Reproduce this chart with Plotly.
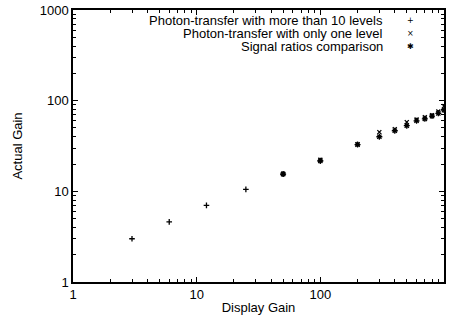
import plotly.graph_objects as go

# Data
x_multi = [3, 6, 12, 25, 50, 100]
y_multi = [3.0, 4.6, 7.0, 10.5, 15.5, 21.7]

x_one = [50, 100, 200, 300, 400, 500, 600, 700, 800, 900, 1000]
y_one = [15.6, 22.3, 33.0, 45.0, 48.5, 58.0, 62.0, 65.5, 69.0, 76.0, 87.0]

x_ratio = [50, 100, 200, 300, 400, 500, 600, 700, 800, 900, 1000]
y_ratio = [15.5, 21.7, 32.8, 40.0, 46.6, 53.0, 60.0, 63.0, 67.6, 72.5, 78.7]

major_ticks = [1, 10, 100, 1000]
major_labels = ["1", "10", "100", "1000"]
minor_ticks = [m * d for d in (1, 10, 100) for m in range(2, 10)]

legend_names = ["Photon-transfer with more than 10 levels",
                "Photon-transfer with only one level",
                "Signal ratios comparison"]
key_glyphs = ["+", "×", "✱"]
symbols = ["cross-thin-open", "x-thin-open", "asterisk-open"]
sizes = [4, 4, 5]

FONT = "Liberation Sans, Arial, sans-serif"

fig = go.Figure()
for xs, ys, sym, sz, nm in [(x_multi, y_multi, symbols[0], sizes[0], legend_names[0]),
                            (x_one, y_one, symbols[1], sizes[1], legend_names[1]),
                            (x_ratio, y_ratio, symbols[2], sizes[2], legend_names[2])]:
    fig.add_trace(go.Scatter(x=xs, y=ys, mode="markers", name=nm,
                             marker=dict(symbol=sym, size=sz, color="black",
                                         line=dict(color="black", width=1.3)),
                             showlegend=False))

# gnuplot-style key: text right-aligned, symbol to the right
key_y = [0.961, 0.913, 0.865]
for nm, g, yy in zip(legend_names, key_glyphs, key_y):
    fig.add_annotation(text=nm, x=0.842, y=yy, xref="paper", yref="paper",
                       xanchor="right", yanchor="middle", showarrow=False,
                       font=dict(family=FONT, size=13, color="black"))
    fig.add_annotation(text=g, x=0.910, y=yy, xref="paper", yref="paper",
                       xanchor="center", yanchor="middle", showarrow=False,
                       font=dict(family="DejaVu Sans", size=8, color="black"))

axis_common = dict(type="log", showgrid=False, zeroline=False, automargin=False,
                   showline=True, linecolor="black", linewidth=1.5, mirror="allticks",
                   ticks="inside", ticklen=5, tickwidth=1, tickcolor="black",
                   tickmode="array", tickvals=major_ticks, ticktext=major_labels,
                   tickfont=dict(family=FONT, size=13, color="black"),
                   minor=dict(ticks="inside", ticklen=3, tickwidth=1, tickcolor="black",
                              tickmode="array", tickvals=minor_ticks, showgrid=False))

fig.update_layout(
    width=456, height=321,
    margin=dict(l=73, r=12, t=10, b=39),
    paper_bgcolor="white", plot_bgcolor="white",
    font=dict(family=FONT, size=13, color="black"),
    xaxis=dict(axis_common, range=[0, 3],
               title=dict(text="Display Gain", font=dict(family=FONT, size=13), standoff=2)),
    yaxis=dict(axis_common, range=[0, 3],
               title=dict(text="Actual Gain", font=dict(family=FONT, size=13), standoff=14)),
    showlegend=False,
)

# remove the default 8px page margin so the figure sits at the window's corner
fig.write_html("out.html", config={"displayModeBar": False},
               post_script="document.body.style.margin='0';document.body.style.overflow='hidden';")
